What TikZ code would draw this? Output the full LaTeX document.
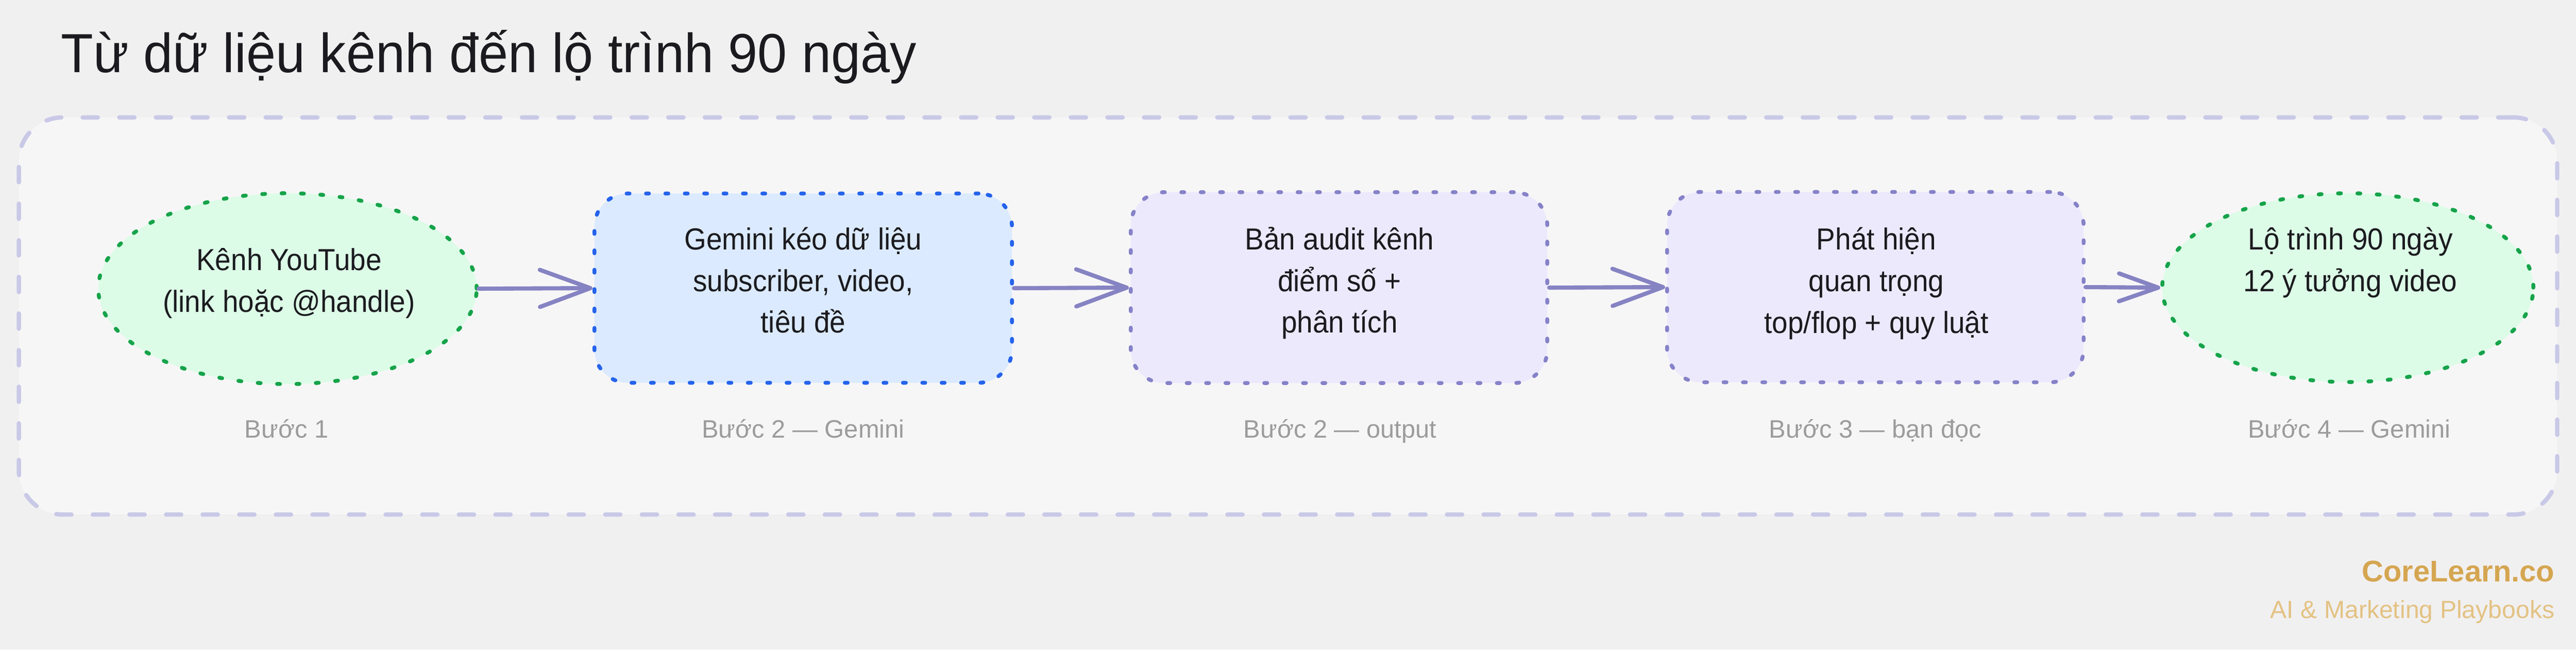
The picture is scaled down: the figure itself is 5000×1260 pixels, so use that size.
\documentclass[tikz,border=0pt]{standalone}
\usepackage{fontspec}
\setmainfont{Liberation Sans}
\newfontfamily\boxfont[FakeStretch=0.93]{Liberation Sans}
\newfontfamily\titlefont[FakeStretch=0.96]{Liberation Sans}
\usetikzlibrary{shapes.geometric,arrows.meta}
\definecolor{pagebg}{HTML}{F1F0F1}
\definecolor{panelfill}{HTML}{F7F6F7}
\definecolor{panelline}{HTML}{C9C9E7}
\definecolor{grfill}{HTML}{DCFCE7}
\definecolor{grline}{HTML}{16A34A}
\definecolor{blfill}{HTML}{DBEAFE}
\definecolor{blline}{HTML}{2563EB}
\definecolor{lvfill}{HTML}{ECE9FD}
\definecolor{lvline}{HTML}{8682C8}
\definecolor{arrowc}{HTML}{8683C3}
\definecolor{inkc}{HTML}{1B1B1F}
\definecolor{labelc}{HTML}{9C9C9C}
\definecolor{brandc}{HTML}{D5A651}
\definecolor{tagc}{HTML}{E3C283}
\tikzset{
  dotline/.style={line width=2.15pt, dash pattern=on 1.6pt off 9.1pt, line cap=round},
  panelbox/.style={rectangle, rounded corners=0.85cm, fill=panelfill, draw=panelline,
    line width=2.4pt, dash pattern=on 8.4pt off 11.8pt, line cap=round, inner sep=0},
  ovalbox/.style={ellipse, fill=grfill, draw=grline, dotline, inner sep=0},
  bluebox/.style={rectangle, rounded corners=0.65cm, fill=blfill, draw=blline, dotline, inner sep=0},
  lavbox/.style={rectangle, rounded corners=0.65cm, fill=lvfill, draw=lvline, dotline, inner sep=0},
  boxtext/.style={anchor=base, inner sep=0, text=inkc, font=\boxfont\fontsize{16.8pt}{22.8pt}\selectfont},
  steplabel/.style={anchor=base, inner sep=0, text=labelc, font=\fontsize{13.9pt}{16pt}\selectfont},
  flowarrow/.style={draw=arrowc, line width=2.3pt, line cap=round,
    -{Straight Barb[length=0.98cm, width=0.72cm, line cap=round, line join=round]}},
  flowarrowsmall/.style={draw=arrowc, line width=2.3pt, line cap=round,
    -{Straight Barb[length=0.76cm, width=0.54cm, line cap=round, line join=round]}}
}
\begin{document}
\begin{tikzpicture}[x=0.01cm, y=-0.01cm]
\fill[pagebg] (0,0) rectangle (5000,1260);
\useasboundingbox (0,0) rectangle (5000,1260);

% title
\node[anchor=base west, inner sep=0, text=inkc, font=\titlefont\fontsize{30.4pt}{36pt}\selectfont] (title) at (118,140) {Từ dữ liệu kênh đến lộ trình 90 ngày};

% panel
\node[panelbox, minimum width=49.24cm, minimum height=7.70cm] (panel) at (2500,613) {};

% shapes
\node[ovalbox, minimum width=7.34cm, minimum height=3.70cm] (n1) at (558,560) {};
\node[bluebox, minimum width=8.10cm, minimum height=3.67cm] (n2) at (1559,559) {};
\node[lavbox, minimum width=8.08cm, minimum height=3.70cm] (n3) at (2599,558) {};
\node[lavbox, minimum width=8.08cm, minimum height=3.69cm] (n4) at (3640,557) {};
\node[ovalbox, minimum width=7.20cm, minimum height=3.66cm] (n5) at (4557,558) {};

% texts
\node[boxtext] (t1a) at (561,524) {Kênh YouTube};
\node[boxtext] (t1b) at (561,605) {(link hoặc @handle)};
\node[boxtext] (t2a) at (1559,484) {Gemini kéo dữ liệu};
\node[boxtext] (t2b) at (1559,565) {subscriber, video,};
\node[boxtext] (t2c) at (1559,645) {tiêu đề};
\node[boxtext] (t3a) at (2600,484) {Bản audit kênh};
\node[boxtext] (t3b) at (2600,565) {điểm số +};
\node[boxtext] (t3c) at (2600,645) {phân tích};
\node[boxtext] (t4a) at (3642,484) {Phát hiện};
\node[boxtext] (t4b) at (3642,565) {quan trọng};
\node[boxtext] (t4c) at (3642,646) {top/flop + quy luật};
\node[boxtext] (t5a) at (4562,484) {Lộ trình 90 ngày};
\node[boxtext] (t5b) at (4562,565) {12 ý tưởng video};

% step labels
\node[steplabel] (l1) at (556,849) {Bước 1};
\node[steplabel] (l2) at (1559,849) {Bước 2 — Gemini};
\node[steplabel] (l3) at (2601,849) {Bước 2 — output};
\node[steplabel] (l4) at (3640,849) {Bước 3 — bạn đọc};
\node[steplabel] (l5) at (4560,849) {Bước 4 — Gemini};

% arrows
\draw[flowarrow] (n1.east) -- (n2.west);
\draw[flowarrow] (n2.east) -- (n3.west);
\draw[flowarrow] (n3.east) -- (n4.west);
\draw[flowarrowsmall] (n4.east) -- (n5.west);

% footer
\node[anchor=base east, inner sep=0, text=brandc, font=\bfseries\fontsize{16.5pt}{20pt}\selectfont] (brand) at (4959,1128) {CoreLearn.co};
\node[anchor=base east, inner sep=0, text=tagc, font=\fontsize{13.7pt}{16pt}\selectfont] (tag) at (4959,1199) {AI \& Marketing Playbooks};
\end{tikzpicture}
\end{document}
